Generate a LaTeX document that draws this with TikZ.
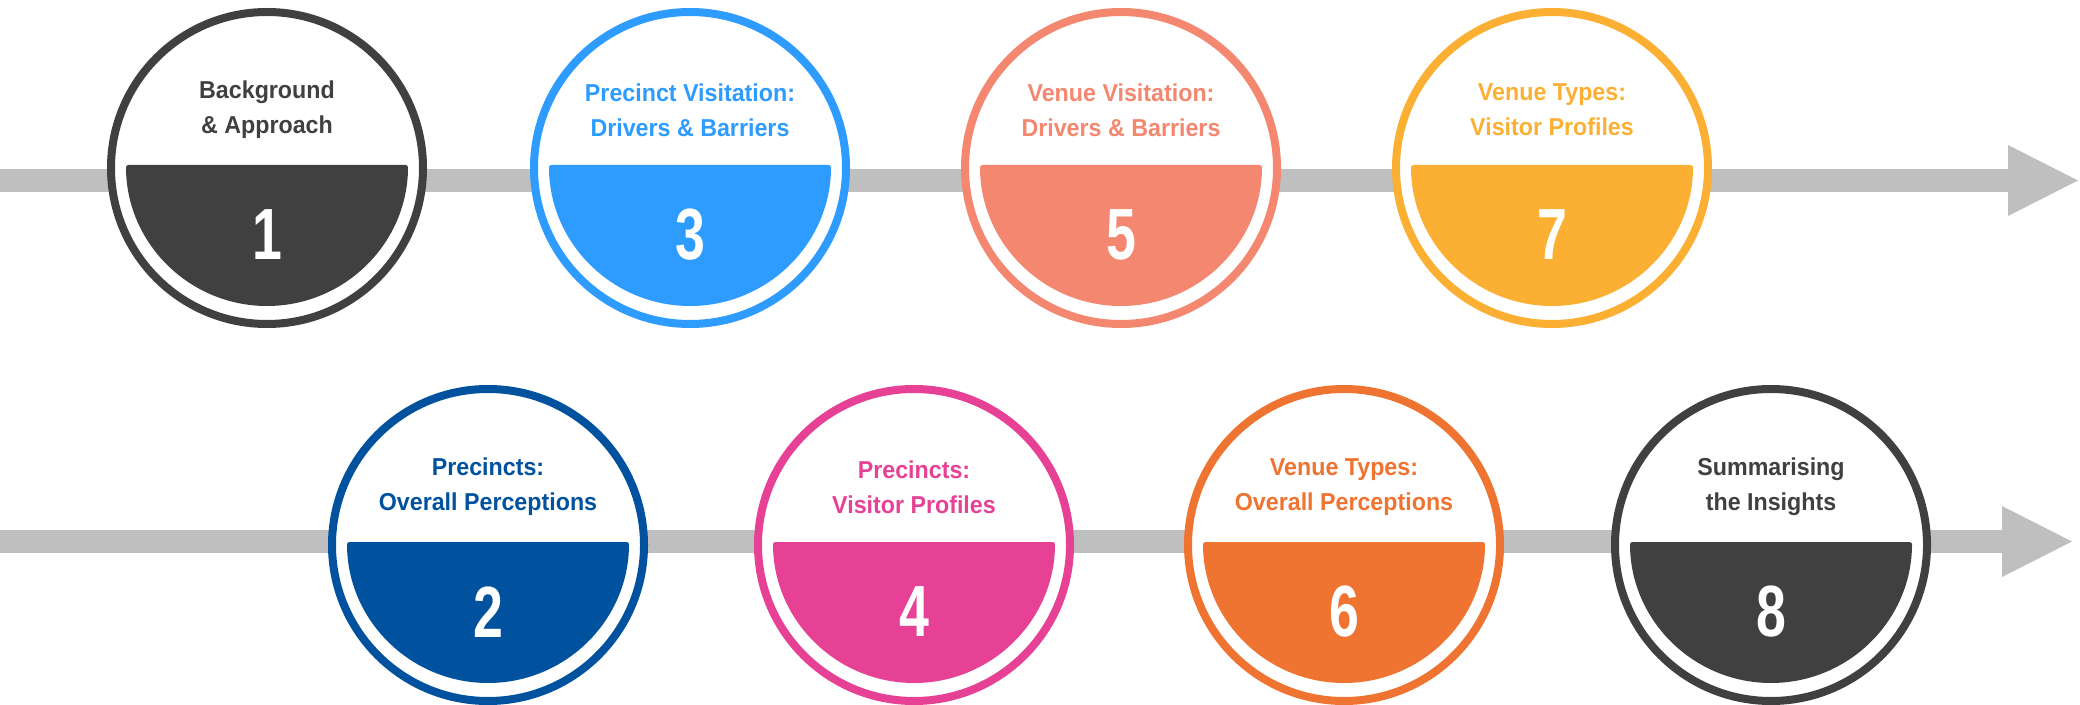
\documentclass[tikz,border=0pt]{standalone}
\usepackage{fontspec}
\setmainfont{Liberation Sans}[FakeStretch=0.95]
\newfontfamily\numfont{Liberation Sans}[FakeStretch=0.74]
\usetikzlibrary{calc, positioning, arrows.meta}

\definecolor{stepgray}{HTML}{404040}
\definecolor{stepsky}{HTML}{2E9BFE}
\definecolor{stepsalmon}{HTML}{F4876F}
\definecolor{stepamber}{HTML}{FBB034}
\definecolor{stepnavy}{HTML}{00529E}
\definecolor{steppink}{HTML}{E64194}
\definecolor{steporange}{HTML}{F07431}
\definecolor{linegray}{HTML}{BFBFBF}

\begin{document}
\begin{tikzpicture}[x=0.25mm, y=0.25mm,
		timeline/.style={draw=linegray, line width=5.75mm,
			-{Triangle[length=17.5mm, width=17.75mm, line width=0pt, fill=linegray]}},
		stepring/.style={circle, fill=white, line width=2mm, minimum size=78mm, inner sep=0pt},
		steptitle/.style={font=\bfseries\fontsize{17.4}{24.9}\selectfont, align=center, inner sep=0pt},
		stepnum/.style={font=\numfont\bfseries\fontsize{51.6}{52}\selectfont, text=white, inner sep=0pt}]
	\useasboundingbox (0,0) rectangle (2080,704);
	% the two time lines
	\coordinate (top-start) at (0,523.5);
	\coordinate (top-end) at (2078,523.5);
	\coordinate (low-start) at (0,162.5);
	\coordinate (low-end) at (2072,162.5);
	\draw[timeline] (top-start) -- (top-end);
	\draw[timeline] (low-start) -- (low-end);
	% the steps
	\foreach \n/\x/\y/\col/\txt in {
			1/267/536/stepgray/{Background\\\& Approach},
			3/690/536/stepsky/{Precinct Visitation:\\Drivers \& Barriers},
			5/1121/536/stepsalmon/{Venue Visitation:\\Drivers \& Barriers},
			7/1552/536/stepamber/{Venue Types:\\Visitor Profiles},
			2/488/159/stepnavy/{Precincts:\\Overall Perceptions},
			4/914/159/steppink/{Precincts:\\Visitor Profiles},
			6/1344/159/steporange/{Venue Types:\\Overall Perceptions},
			8/1771/159/stepgray/{Summarising\\the Insights}}
		{
			\node[stepring, draw=\col] (step\n) at (\x,\y) {};
			\fill[\col, rounded corners=0.6mm] ($(step\n)+(-141,3)$) arc[start angle=180, end angle=360, radius=141] -- cycle;
			\node[steptitle, text=\col] (title\n) at ($(step\n)+(0,58)$) {\txt};
			\node[stepnum] (num\n) at ($(step\n)+(0,-67)$) {\n};
		}
\end{tikzpicture}
\end{document}
